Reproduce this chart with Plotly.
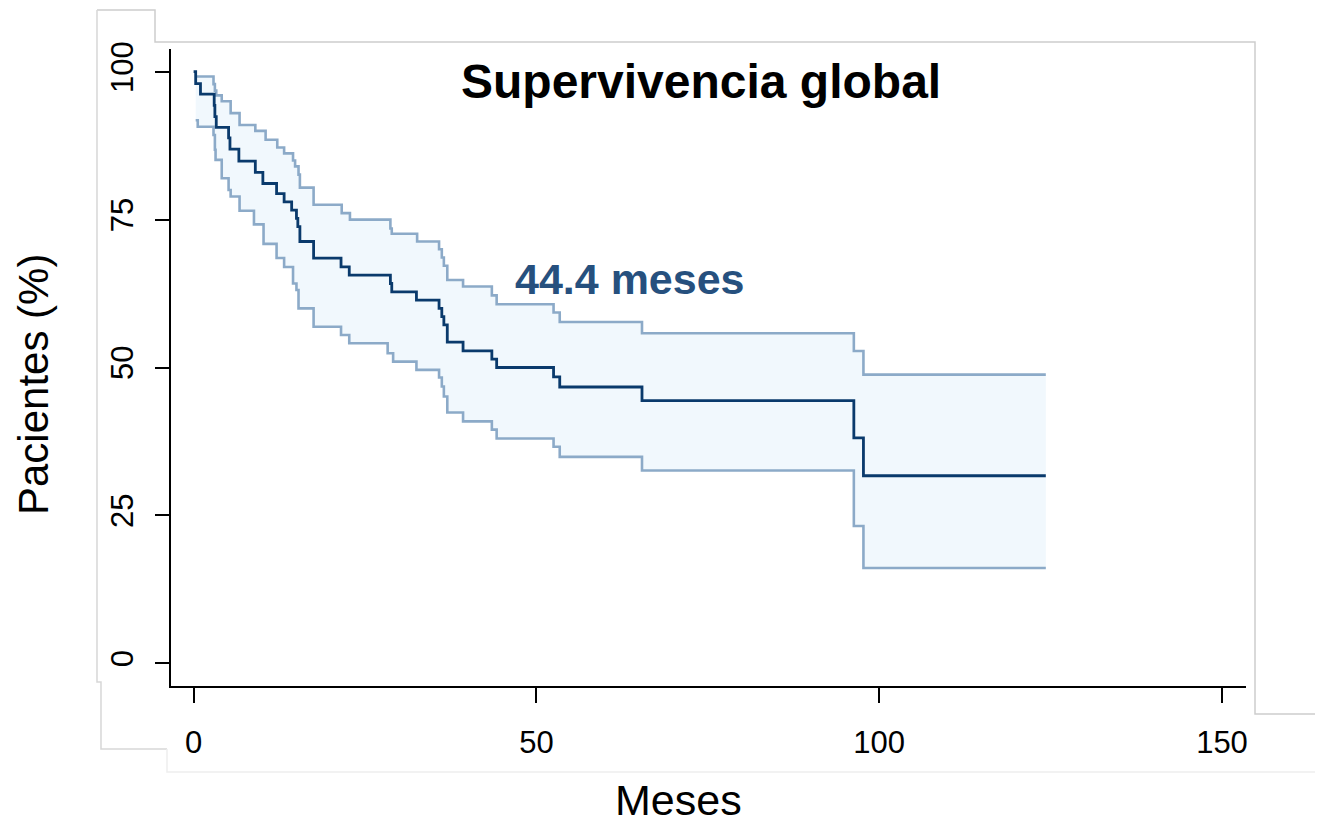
import plotly.graph_objects as go

# ---- data (Kaplan-Meier, overall survival) ----
surv_time = [0, 0.3, 1.0, 3.0, 3.1, 3.3, 5.1, 5.3, 6.6, 9.0, 10.1, 12.1, 13.2, 14.3, 15.0, 15.2, 15.5,
             17.5, 21.5, 22.7, 28.7, 28.9, 32.5, 35.8, 36.2, 36.5, 37.0, 39.3, 43.5, 44.2, 52.5, 53.4,
             65.4, 96.3, 97.7, 124.3]
surv_pct = [100, 98.0, 96.2, 94.3, 92.4, 90.6, 88.8, 86.9, 84.9, 83.0, 81.1, 79.4, 78.0, 76.6, 75.2, 73.8, 71.3,
            68.5, 67.0, 65.6, 64.2, 62.8, 61.4, 60.0, 58.6, 57.2, 54.3, 52.8, 51.4, 50.0, 48.4, 46.7,
            44.4, 38.1, 31.7, 31.7]

upper_time = [0.3, 2.9, 3.1, 3.3, 4.1, 5.4, 6.7, 9.0, 10.5, 12.2, 13.2, 14.5, 14.8, 15.3, 15.5, 17.5,
              21.6, 22.8, 28.7, 28.9, 32.6, 35.8, 36.2, 36.5, 37.0, 39.3, 43.5, 44.2, 52.5, 53.4, 65.4,
              96.3, 97.7, 124.3]
upper_pct = [99.2, 97.9, 96.8, 96.0, 95.0, 93.0, 91.0, 90.0, 88.5, 87.2, 86.2, 85.0, 84.0, 82.6, 80.4, 77.5,
             76.1, 75.0, 73.5, 72.6, 71.3, 70.0, 68.6, 67.2, 64.8, 63.7, 62.2, 60.7, 59.3, 57.7, 55.8,
             52.8, 48.8, 48.8]

lower_time = [0.3, 0.6, 2.9, 3.1, 3.2, 4.1, 5.1, 5.4, 6.7, 8.8, 10.2, 12.1, 13.2, 14.5, 15.0, 15.3, 17.5,
              21.5, 22.7, 28.3, 29.1, 32.5, 35.8, 36.2, 36.5, 37.0, 39.3, 43.5, 44.2, 52.5, 53.4, 65.4,
              96.3, 97.7, 124.3]
lower_pct = [91.8, 90.7, 89.3, 86.8, 85.1, 82.0, 80.0, 78.9, 76.5, 74.2, 70.9, 68.5, 67.0, 64.2, 63.1, 60.0, 56.9,
             55.5, 54.1, 52.4, 51.0, 49.6, 48.3, 46.8, 45.1, 42.4, 40.9, 39.5, 38.0, 36.6, 34.9, 32.6,
             23.2, 16.1, 16.1]

x_ticks = [0, 50, 100, 150]
y_ticks = [0, 25, 50, 75, 100]
title_text = "Supervivencia global"
median_text = "44.4 meses"
x_title = "Meses"
y_title = "Pacientes (%)"

FONT = "Liberation Sans, Arial, sans-serif"
MAIN_COLOR = "rgb(10,58,108)"
CI_COLOR = "rgb(140,170,200)"
FILL_COLOR = "rgb(241,248,253)"
TEXT_BLUE = "rgb(38,80,126)"


def step_vertices(t, v):
    xs, ys = [t[0]], [v[0]]
    for i in range(1, len(t)):
        xs += [t[i], t[i]]
        ys += [v[i - 1], v[i]]
    return xs, ys


ux, uy = step_vertices(upper_time, upper_pct)
lx, ly = step_vertices(lower_time, lower_pct)

fig = go.Figure()
fig.add_trace(go.Scatter(x=ux + lx[::-1], y=uy + ly[::-1], fill="toself", fillcolor=FILL_COLOR,
                         line=dict(width=0), mode="lines", hoverinfo="skip", showlegend=False))
fig.add_trace(go.Scatter(x=upper_time, y=upper_pct, mode="lines", line_shape="hv",
                         line=dict(color=CI_COLOR, width=2.6), showlegend=False))
fig.add_trace(go.Scatter(x=lower_time, y=lower_pct, mode="lines", line_shape="hv",
                         line=dict(color=CI_COLOR, width=2.6), showlegend=False))
fig.add_trace(go.Scatter(x=surv_time, y=surv_pct, mode="lines", line_shape="hv",
                         line=dict(color=MAIN_COLOR, width=2.8), showlegend=False))

# page has an 8px body margin: figure spans page pixels 8..1323 x 8..825
OFF = 8
W, H = 1323 - OFF, 825 - OFF
PL, PR, PT, PB = 171, 1246, 49, 686          # plot area in page pixels
L, R, T, B = PL - OFF, 1323 - PR, PT - OFF, 825 - PB
pw, ph = PR - PL, PB - PT


def px(xpage):
    return (xpage - PL) / pw


def py(ypage):
    return (PB - ypage) / ph


def path(points):
    return "M " + " L ".join(f"{px(a):.5f},{py(b):.5f}" for a, b in points)


shapes = [
    dict(type="path", xref="paper", yref="paper",
         path=path([(97, 10), (155, 10), (155, 42), (1255, 42), (1255, 714), (1323, 714)]),
         line=dict(color="rgb(205,205,205)", width=1.5)),
    dict(type="path", xref="paper", yref="paper",
         path=path([(97, 10), (97, 682), (101, 682), (101, 749), (167, 749)]),
         line=dict(color="rgb(215,215,215)", width=1.5)),
    dict(type="path", xref="paper", yref="paper",
         path=path([(167, 749), (167, 772), (1323, 772)]),
         line=dict(color="rgb(238,238,238)", width=1.5)),
]

annotations = [
    dict(text=f"<b>{title_text}</b>", x=74.0, y=98.3, xref="x", yref="y", showarrow=False,
         xanchor="center", yanchor="middle", font=dict(family=FONT, size=48, color="black")),
    dict(text=f"<b>{median_text}</b>", x=63.7, y=65.0, xref="x", yref="y", showarrow=False,
         xanchor="center", yanchor="middle", font=dict(family=FONT, size=43, color=TEXT_BLUE)),
    dict(text=x_title, x=px(678), y=py(800), xref="paper", yref="paper", showarrow=False,
         xanchor="center", yanchor="middle", font=dict(family=FONT, size=43, color="black")),
    dict(text=y_title, x=px(33), y=py(385), xref="paper", yref="paper", showarrow=False,
         xanchor="center", yanchor="middle", textangle=-90,
         font=dict(family=FONT, size=42, color="black")),
]

fig.update_layout(
    width=W, height=H, autosize=False,
    margin=dict(l=L, r=R, t=T, b=B, pad=0),
    paper_bgcolor="white", plot_bgcolor="white",
    shapes=shapes, annotations=annotations,
    xaxis=dict(range=[-3.3, 153.5], tickvals=x_ticks, ticktext=[str(v) for v in x_ticks],
               showline=True, linecolor="black", linewidth=2.2, ticks="outside", ticklen=15,
               tickwidth=2, tickcolor="black", showgrid=False, zeroline=False,
               tickfont=dict(family=FONT, size=31, color="black"), ticklabelstandoff=13),
    yaxis=dict(range=[-3.84, 103.84], tickvals=y_ticks, ticktext=[str(v) for v in y_ticks],
               showline=True, linecolor="black", linewidth=2.2, ticks="outside", ticklen=14,
               tickwidth=2, tickcolor="black", showgrid=False, zeroline=False, tickangle=-90,
               tickfont=dict(family=FONT, size=31, color="black"), ticklabelstandoff=10),
)

fig.write_html("out.html")
